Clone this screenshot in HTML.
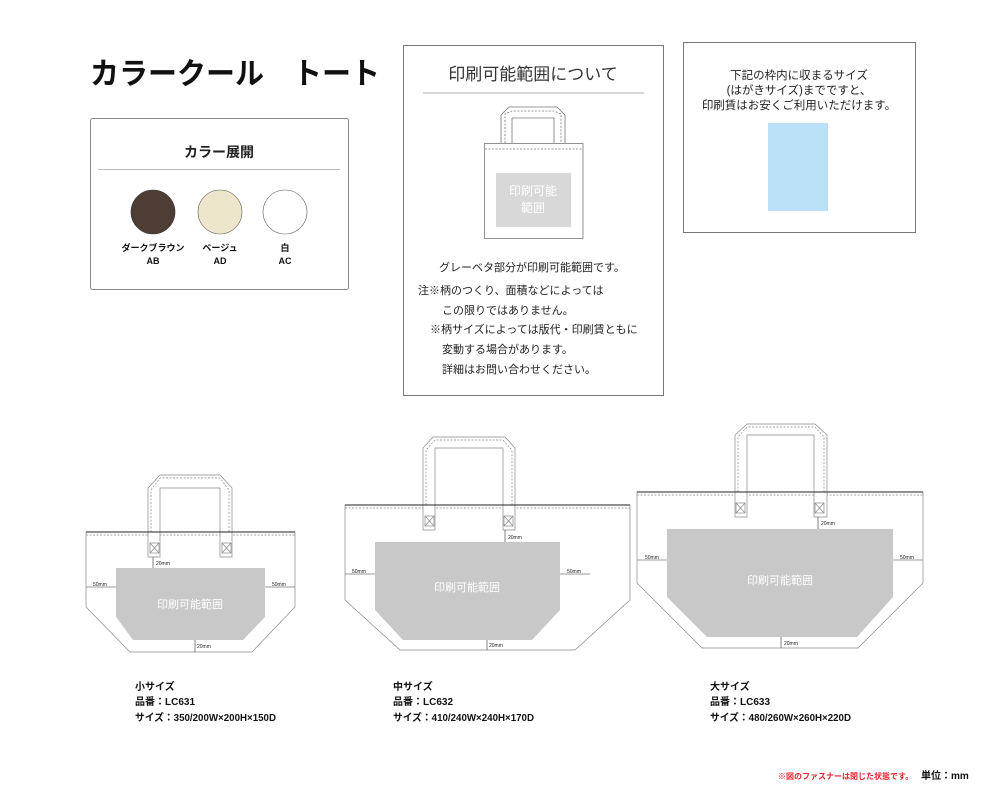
<!DOCTYPE html>
<html><head><meta charset="utf-8"><style>
html,body{margin:0;padding:0;background:#fff;}
svg{display:block;font-family:"Liberation Sans","Noto Sans CJK JP",sans-serif;}
</style></head><body>
<svg width="1000" height="801" viewBox="0 0 1000 801" xmlns="http://www.w3.org/2000/svg">
<rect width="1000" height="801" fill="#fff"/>
<!-- Title -->
<text x="90" y="84" font-size="30" font-weight="bold" fill="#111" textLength="290" lengthAdjust="spacingAndGlyphs">カラークール　トート</text>

<!-- Color box -->
<rect x="90.5" y="118.5" width="258" height="171" fill="#fff" stroke="#888" rx="2"/>
<text x="219" y="157" font-size="14" font-weight="bold" text-anchor="middle" fill="#222">カラー展開</text>
<line x1="98" y1="169.5" x2="340" y2="169.5" stroke="#bbb"/>
<circle cx="153" cy="212" r="22" fill="#4e3d34" stroke="#333" stroke-width="0.6"/>
<circle cx="220" cy="212" r="22" fill="#ede6cb" stroke="#666" stroke-width="0.6"/>
<circle cx="285" cy="212" r="22" fill="#fff" stroke="#666" stroke-width="0.6"/>
<g font-size="9" font-weight="bold" text-anchor="middle" fill="#111">
<text x="153" y="251">ダークブラウン</text><text x="153" y="264">AB</text>
<text x="220" y="251">ベージュ</text><text x="220" y="264">AD</text>
<text x="285" y="251">白</text><text x="285" y="264">AC</text>
</g>

<!-- Middle box -->
<rect x="403.5" y="45.5" width="260" height="350" fill="#fff" stroke="#777"/>
<text x="533" y="80" font-size="17" text-anchor="middle" fill="#333">印刷可能範囲について</text>
<line x1="423" y1="93" x2="644" y2="93" stroke="#ccc" stroke-width="1.5"/>
<g fill="none" stroke="#777" stroke-width="0.8">
<path d="M501,143 L501,115 L509,107 L557,107 L565,115 L565,143"/>
<path d="M512,143 L512,118 L554,118 L554,143"/>
<path d="M505,143 L505,114 L512,111 L554,111 L561,114 L561,143" stroke-dasharray="2,1.5"/>
<rect x="484.5" y="143.5" width="98.5" height="95" fill="#fff"/>
<line x1="485" y1="149" x2="583" y2="149" stroke-dasharray="2,1.5"/>
</g>
<rect x="496" y="173" width="75" height="54" fill="#d8d8d8"/>
<text x="533" y="195" font-size="12" text-anchor="middle" fill="#fff">印刷可能</text>
<text x="533" y="212" font-size="12" text-anchor="middle" fill="#fff">範囲</text>
<g font-size="11" fill="#222">
<text x="439" y="271">グレーベタ部分が印刷可能範囲です。</text>
<text x="418" y="294">注※柄のつくり、面積などによっては</text>
<text x="442" y="314">この限りではありません。</text>
<text x="430" y="333">※柄サイズによっては版代・印刷賃ともに</text>
<text x="442" y="353">変動する場合があります。</text>
<text x="442" y="373">詳細はお問い合わせください。</text>
</g>

<!-- Right box -->
<rect x="683.5" y="42.5" width="232" height="190" fill="#fff" stroke="#777"/>
<g font-size="11.5" text-anchor="middle" fill="#222">
<text x="799" y="79">下記の枠内に収まるサイズ</text>
<text x="799" y="94">(はがきサイズ)までですと、</text>
<text x="799" y="109">印刷賃はお安くご利用いただけます。</text>
</g>
<rect x="768" y="123" width="60" height="88" fill="#b9e0f7"/>

<!-- Small bag -->
<g fill="none" stroke="#888" stroke-width="0.7">
<path d="M86,532 L295,532 L295,607 L252,652 L130,652 L86,607 Z" fill="#fff"/>
<line x1="86" y1="535" x2="295" y2="535" stroke-dasharray="2,1.5"/>
<path d="M148,557 L148,488 L160,475 L220,475 L232,488 L232,557 L220,557 L220,488 L160,488 L160,557 Z" fill="#fff"/>
<path d="M151,532 L151,490 L160,478 L220,478 L229,490 L229,532" stroke-dasharray="2,1.5"/>
<rect x="150" y="543" width="9" height="10"/><path d="M150,543 L159,553 M159,543 L150,553"/>
<rect x="222" y="543" width="9" height="10"/><path d="M222,543 L231,553 M231,543 L222,553"/>
</g>
<line x1="86" y1="532" x2="295" y2="532" stroke="#222" stroke-width="1"/>
<path d="M116,568 L265,568 L265,617 L243,640 L133,640 L116,617 Z" fill="#c8c8c8"/>
<text x="190" y="608" font-size="11" text-anchor="middle" fill="#fff">印刷可能範囲</text>
<g stroke="#333" stroke-width="0.6"><line x1="153" y1="557" x2="153" y2="568"/><line x1="86" y1="587" x2="116" y2="587"/><line x1="265" y1="587" x2="295" y2="587"/><line x1="195" y1="640" x2="195" y2="652"/></g>
<g font-size="5" fill="#222"><text x="156" y="565">20mm</text><text x="93" y="586">50mm</text><text x="272" y="586">50mm</text><text x="197" y="648">20mm</text></g>

<!-- Medium bag -->
<g fill="none" stroke="#888" stroke-width="0.7">
<path d="M345,505 L630,505 L630,600 L575,650 L400,650 L345,600 Z" fill="#fff"/>
<line x1="345" y1="508" x2="630" y2="508" stroke-dasharray="2,1.5"/>
<path d="M423,530 L423,448 L433,437 L505,437 L515,448 L515,530 L503,530 L503,448 L435,448 L435,530 Z" fill="#fff"/>
<path d="M426,505 L426,450 L435,440 L503,440 L512,450 L512,505" stroke-dasharray="2,1.5"/>
<rect x="425" y="516" width="9" height="10"/><path d="M425,516 L434,526 M434,516 L425,526"/>
<rect x="504" y="516" width="9" height="10"/><path d="M504,516 L513,526 M513,516 L504,526"/>
</g>
<line x1="345" y1="505" x2="630" y2="505" stroke="#222" stroke-width="1"/>
<path d="M375,542 L560,542 L560,610 L532,640 L403,640 L375,610 Z" fill="#c8c8c8"/>
<text x="467" y="591" font-size="11" text-anchor="middle" fill="#fff">印刷可能範囲</text>
<g stroke="#333" stroke-width="0.6"><line x1="505" y1="530" x2="505" y2="542"/><line x1="345" y1="574" x2="375" y2="574"/><line x1="560" y1="574" x2="590" y2="574"/><line x1="487" y1="640" x2="487" y2="650"/></g>
<g font-size="5" fill="#222"><text x="508" y="539">20mm</text><text x="352" y="573">50mm</text><text x="567" y="573">50mm</text><text x="489" y="647">20mm</text></g>

<!-- Large bag -->
<g fill="none" stroke="#888" stroke-width="0.7">
<path d="M637,492 L923,492 L923,583 L858,648 L702,648 L637,583 Z" fill="#fff"/>
<line x1="637" y1="495" x2="923" y2="495" stroke-dasharray="2,1.5"/>
<path d="M735,517 L735,435 L747,424 L815,424 L827,435 L827,517 L814,517 L814,435 L747,435 L747,517 Z" fill="#fff"/>
<path d="M738,492 L738,437 L747,427 L815,427 L824,437 L824,492" stroke-dasharray="2,1.5"/>
<rect x="736" y="503" width="9" height="10"/><path d="M736,503 L745,513 M745,503 L736,513"/>
<rect x="815" y="503" width="9" height="10"/><path d="M815,503 L824,513 M824,503 L815,513"/>
</g>
<line x1="637" y1="492" x2="923" y2="492" stroke="#222" stroke-width="1"/>
<path d="M667,529 L893,529 L893,597 L857,637 L707,637 L667,597 Z" fill="#c8c8c8"/>
<text x="780" y="584" font-size="11" text-anchor="middle" fill="#fff">印刷可能範囲</text>
<g stroke="#333" stroke-width="0.6"><line x1="818" y1="517" x2="818" y2="529"/><line x1="637" y1="560" x2="667" y2="560"/><line x1="893" y1="560" x2="923" y2="560"/><line x1="781" y1="637" x2="781" y2="648"/></g>
<g font-size="5" fill="#222"><text x="821" y="525">20mm</text><text x="645" y="559">50mm</text><text x="900" y="559">50mm</text><text x="784" y="645">20mm</text></g>

<!-- Spec texts -->
<g font-size="10" font-weight="bold" fill="#111">
<text x="135" y="690">小サイズ</text><text x="135" y="705">品番：LC631</text><text x="135" y="721" textLength="141" lengthAdjust="spacingAndGlyphs">サイズ：350/200W×200H×150D</text>
<text x="393" y="690">中サイズ</text><text x="393" y="705">品番：LC632</text><text x="393" y="721" textLength="141" lengthAdjust="spacingAndGlyphs">サイズ：410/240W×240H×170D</text>
<text x="710" y="690">大サイズ</text><text x="710" y="705">品番：LC633</text><text x="710" y="721" textLength="141" lengthAdjust="spacingAndGlyphs">サイズ：480/260W×260H×220D</text>
</g>
<text x="778" y="779" font-size="8" font-weight="bold" fill="#e8202a">※図のファスナーは閉じた状態です。</text>
<text x="921" y="779" font-size="10" font-weight="bold" fill="#111">単位：mm</text>
</svg>
</body></html>
